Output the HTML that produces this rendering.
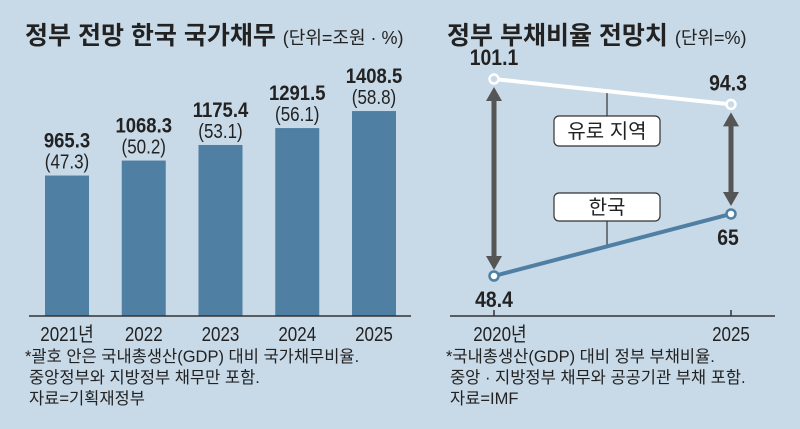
<!DOCTYPE html>
<html><head><meta charset="utf-8"><style>
body{margin:0;width:800px;height:429px;overflow:hidden;background:#c8d9e7;font-family:"Liberation Sans","Noto Sans CJK KR",sans-serif;}
svg{display:block}
text{font-family:"Liberation Sans","Noto Sans CJK KR",sans-serif;fill:#222}
</style></head><body>
<svg width="800" height="429">
<rect width="800" height="429" fill="#c8d9e7"/>
<text x="25" y="44" font-size="25" font-weight="bold">정부 전망 한국 국가채무 <tspan font-size="18" font-weight="normal">(단위=조원 · %)</tspan></text>
<text x="447" y="44" font-size="25" font-weight="bold">정부 부채비율 전망치 <tspan font-size="18" font-weight="normal">(단위=%)</tspan></text>
<g id="bars"></g>
<line x1="29" y1="316" x2="411" y2="316" stroke="#333" stroke-width="1.5"/>
<g id="line"></g>
<line x1="450" y1="316" x2="775" y2="316" stroke="#333" stroke-width="1.5"/>
<g font-size="16.5">
<text x="25" y="362">*괄호 안은 국내총생산(GDP) 대비 국가채무비율.</text>
<text x="29" y="383">중앙정부와 지방정부 채무만 포함.</text>
<text x="29" y="404">자료=기획재정부</text></g>
<g font-size="16.5">
<text x="446" y="362">*국내총생산(GDP) 대비 정부 부채비율.</text>
<text x="450" y="383">중앙 · 지방정부 채무와 공공기관 부채 포함.</text>
<text x="450" y="404">자료=IMF</text></g>
</svg>
<script>
const years=["2021년","2022","2023","2024","2025"];
const debt=[965.3,1068.3,1175.4,1291.5,1408.5];
const ratio=["47.3","50.2","53.1","56.1","58.8"];
const lineYears=["2020년","2025"];
const euro=[101.1,94.3];
const korea=[48.4,65];
const NS="http://www.w3.org/2000/svg";
function mk(t,a,p){const e=document.createElementNS(NS,t);for(const k in a)e.setAttribute(k,a[k]);p.appendChild(e);return e;}
const bx=i=>45+i*76.75, by=v=>316-v*0.1455;
const g=document.getElementById('bars');
years.forEach((yr,i)=>{
 const x=bx(i),y=by(debt[i]);
 const r=mk('rect',{x:x,y:y,width:44,height:316-y,fill:'#4f7fa3'},g);
 
 
 const t1=mk('text',{x:x+22,y:y-28,'font-size':21,'font-weight':'bold','text-anchor':'middle',transform:`translate(${x+22} 0) scale(0.88 1) translate(${-(x+22)} 0)`},g);t1.textContent=debt[i].toFixed(1);
 
 
 const t2=mk('text',{x:x+22,y:y-7,'font-size':20,'text-anchor':'middle',transform:`translate(${x+22} 0) scale(0.85 1) translate(${-(x+22)} 0)`},g);t2.textContent='('+ratio[i]+')';
 
 
 const t3=mk('text',{x:x+22,y:341,'font-size':20,'text-anchor':'middle',transform:`translate(${x+22} 0) scale(0.85 1) translate(${-(x+22)} 0)`},g);t3.textContent=yr;
 
 
});
const L=document.getElementById('line');
const lx=i=>494+i*237, ly=v=>276-(v-48.4)*3.738;
function arrow(x,y1,y2){
 mk('line',{x1:x,y1:y1+12,x2:x,y2:y2-12,stroke:'#555','stroke-width':5},L);
 mk('polygon',{points:`${x-8},${y1+14} ${x+8},${y1+14} ${x},${y1}`,fill:'#555'},L);
 mk('polygon',{points:`${x-8},${y2-14} ${x+8},${y2-14} ${x},${y2}`,fill:'#555'},L);
}
arrow(lx(0),ly(euro[0])+8,ly(korea[0])-6);
arrow(lx(1),ly(euro[1])+8,ly(korea[1])-8);
mk('line',{x1:607,y1:ly((euro[0]+euro[1])/2),x2:607,y2:116,stroke:'#333','stroke-width':1.2},L);
mk('line',{x1:607,y1:221,x2:607,y2:ly((korea[0]+korea[1])/2),stroke:'#333','stroke-width':1.2},L);
const eu=mk('polyline',{points:euro.map((v,i)=>lx(i)+','+ly(v)).join(' '),fill:'none',stroke:'#fff','stroke-width':4},L);


const ko=mk('polyline',{points:korea.map((v,i)=>lx(i)+','+ly(v)).join(' '),fill:'none',stroke:'#4f7fa3','stroke-width':4},L);


[[euro,'#fff','euro'],[korea,'#4f7fa3','korea']].forEach(([s,c,n])=>s.forEach((v,i)=>{
 const p=mk('circle',{cx:lx(i),cy:ly(v),r:4.5,fill:'#fff',stroke:c,'stroke-width':2.5},L);
 if(c==='#fff'){p.setAttribute('fill','#c8d9e7');}
 
 
}));
const labs=[[lx(0),ly(euro[0])-14,euro[0]],[lx(1)-3,ly(euro[1])-14,euro[1]],[lx(1)-3,ly(korea[1])+31,korea[1]],[lx(0),ly(korea[0])+31,korea[0]]];
labs.forEach(([x,y,v])=>{
 const t=mk('text',{x:x,y:y,'font-size':22,'font-weight':'bold','text-anchor':'middle',transform:`translate(${x} 0) scale(0.88 1) translate(${-x} 0)`},L);t.textContent=String(v);
 
 
});
[['유로 지역',116,146],['한국',193,221]].forEach(([s,y1,y2])=>{
 const r=mk('rect',{x:554,y:y1,width:106,height:y2-y1,rx:5,fill:'#fff',stroke:'#333','stroke-width':1.2},L);
 
 
 const t=mk('text',{x:607,y:(y1+y2)/2+7,'font-size':20,'text-anchor':'middle'},L);t.textContent=s;
 
 
});
lineYears.forEach((yr,i)=>{
 mk('line',{x1:lx(i),y1:310,x2:lx(i),y2:316,stroke:'#333','stroke-width':1.5},L);
 const t=mk('text',{x:lx(i)+(i?0:7),y:341,'font-size':20,'text-anchor':'middle',transform:`translate(${lx(i)} 0) scale(0.85 1) translate(${-lx(i)} 0)`},L);t.textContent=yr;
 
 
});
</script>
</body></html>
